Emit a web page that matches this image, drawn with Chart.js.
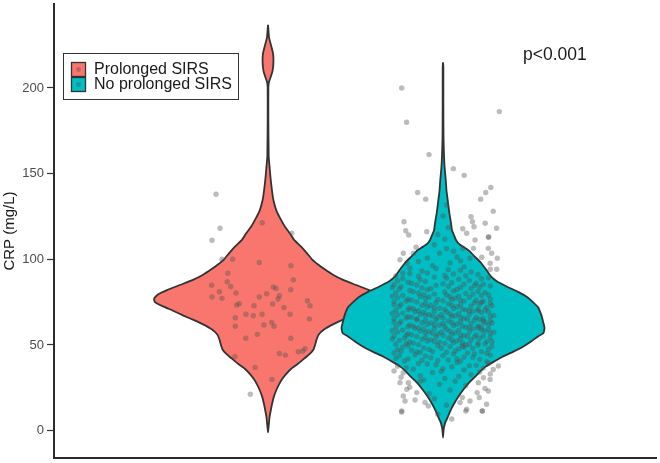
<!DOCTYPE html>
<html>
<head>
<meta charset="utf-8">
<script src="https://cdn.jsdelivr.net/npm/chart.js@4.4.1/dist/chart.umd.min.js"></script>
<style>
  html, body { margin: 0; padding: 0; background: #ffffff; }
  #wrap { width: 660px; height: 463px; }
</style>
</head>
<body>
<div id="wrap"><canvas id="c" width="660" height="463"></canvas></div>
<script>
// ---------------- DATA ----------------
const groups = ['Prolonged SIRS', 'No prolonged SIRS'];
const groupPositions = [1, 2];
const yTicks = [0, 50, 100, 150, 200];
const yTitle = 'CRP (mg/L)';
const pValueText = 'p<0.001';

// Violin outline: CRP level (top to bottom) and half-width (category units)
const prolongedCRP = [236.8, 233, 229.4, 225, 220, 215, 210, 206, 203.3, 200, 180, 160, 153.9, 148, 144.2, 139, 134.5, 128.7, 124, 119, 115, 111.3, 107.4, 103.5, 100, 97, 94, 91, 88, 85, 82, 79.5, 77, 75, 72.5, 70, 67, 64.5, 62, 59, 56, 53, 50, 47.4, 45, 42, 39, 36, 33, 30, 27, 24, 20, 16, 12.5, 8, 5, 2, -1];
const prolongedHalfWidth = [0, 0.003, 0.006, 0.017, 0.029, 0.031, 0.026, 0.014, 0.005, 0.002, 0.002, 0.004, 0.009, 0.014, 0.018, 0.024, 0.031, 0.047, 0.069, 0.097, 0.126, 0.149, 0.189, 0.223, 0.251, 0.286, 0.326, 0.371, 0.429, 0.503, 0.577, 0.629, 0.651, 0.646, 0.600, 0.543, 0.480, 0.423, 0.371, 0.320, 0.289, 0.277, 0.269, 0.260, 0.240, 0.206, 0.171, 0.131, 0.103, 0.080, 0.063, 0.049, 0.034, 0.024, 0.017, 0.009, 0.006, 0.003, 0];

const noProlongedCRP = [214.9, 212, 190, 170, 160, 153.9, 146, 140, 136, 131, 126.5, 121, 117, 114, 111.3, 109, 107, 105, 102, 98, 94, 90, 87, 84, 81, 78, 75, 72, 68, 64, 60, 57, 55, 52, 49, 46, 43, 40, 37.5, 35, 32, 28, 24, 20, 16.4, 13, 10.6, 7, 4.8, 2, 0, -4];
const noProlongedHalfWidth = [0, 0.002, 0.002, 0.003, 0.006, 0.009, 0.016, 0.020, 0.025, 0.031, 0.037, 0.046, 0.051, 0.063, 0.074, 0.091, 0.120, 0.149, 0.177, 0.217, 0.246, 0.274, 0.309, 0.366, 0.429, 0.480, 0.514, 0.543, 0.560, 0.571, 0.580, 0.574, 0.543, 0.503, 0.457, 0.400, 0.337, 0.286, 0.246, 0.217, 0.189, 0.149, 0.117, 0.089, 0.067, 0.049, 0.038, 0.023, 0.013, 0.006, 0.003, 0];

// Jittered observations: [horizontal jitter (category units), CRP]
const prolongedPoints = [[-0.297,138.0],[-0.274,118.1],[-0.32,111.1],[-0.263,100.1],[-0.202,100.1],[-0.033,121.3],[0.135,115.2],[-0.05,98.1],[0.131,96.2],[0.145,88.0],[-0.23,91.9],[-0.233,86.9],[-0.213,84.1],[-0.322,84.9],[-0.278,81.1],[-0.32,78.0],[-0.263,77.2],[-0.183,80.3],[0.03,83.8],[0.046,83.0],[0.13,82.2],[-0.008,79.9],[-0.05,78.0],[0.065,78.7],[0.057,76.8],[-0.179,73.3],[-0.164,74.1],[-0.08,72.9],[0.027,73.9],[0.091,71.9],[0.225,75.8],[0.24,72.9],[-0.126,67.9],[-0.084,67.1],[-0.034,67.9],[0.126,67.9],[-0.187,65.9],[0.236,65.2],[-0.187,60.9],[-0.023,61.7],[0.021,63.2],[0.034,60.9],[-0.061,56.2],[-0.127,53.9],[0.13,53.9],[0.065,45.0],[0.099,44.1],[0.173,46.0],[0.198,46.4],[0.211,47.8],[-0.189,43.1],[-0.074,36.9],[0.023,29.9],[-0.101,21.2]];

const noProlongedPoints = [
[-0.236,200.0],[-0.208,180.0],[0.322,186.2],[-0.08,161.1],[0.059,152.9],[0.121,149.0],[-0.145,139.0],[-0.099,135.1],[0.273,141.9],[0.244,139.0],[0.215,135.1],[0.287,128.1],[-0.223,121.9],[-0.213,116.7],[-0.196,114.2],[-0.093,116.1],[0.16,124.8],[0.168,121.9],[0.177,119.0],[0.241,121.0],[0.306,118.1],[0.113,117.8],[0.135,115.2],[0.261,113.2],[0.183,111.3],[0.259,112.8],[-0.227,103.5],[-0.246,99.7],[-0.154,107.0],[-0.169,103.5],[0.113,106.4],[0.174,106.4],[0.259,106.4],[0.278,103.5],[0.31,100.6],[0.221,101.2],[0.154,100.6],[-0.207,97.7],[-0.189,94.8],[-0.23,91.9],[0.269,97.7],[0.307,94.2],
[-0.06,96.2],[0.04,97.9],[0.12,95.6],[-0.14,98.7],[0.08,101.3],[-0.02,103.6],[0.1,99.1],[-0.09,100.8],[0.02,106.2],[-0.05,108.5],[0.06,104.7],[0.01,111.8],[-0.03,114.5],[0.03,118.6],[0.0,125.3],[0.02,131.7],
[-0.227,33.8],[-0.246,28.0],[-0.198,28.0],[-0.227,20.2],[-0.217,17.3],[-0.236,11.5],[-0.15,22.2],[-0.103,16.4],[-0.084,14.4],[0.097,16.4],[0.135,12.5],[0.154,17.3],[0.207,19.3],[0.249,15.4],[0.259,23.1],[0.231,30.9],[0.269,29.9],[0.202,28.0],[0.287,35.7],[0.316,37.7],[0.195,22.2],[0.224,11.5],[-0.207,24.1],[-0.131,28.9],[-0.236,10.9],[0.13,11.5],[0.225,11.5],
[0.02,14.8],[-0.05,18.6],[0.11,19.4],[-0.16,17.9],[0.05,6.8],[-0.03,9.6],
[-0.08,21.5],[0.04,23.7],[0.13,26.2],[-0.19,25.4],[0.07,28.8],[-0.02,27.1],[0.24,24.6],[-0.11,29.5],
[-0.24,31.2],[0.16,32.6],[-0.06,33.9],[0.01,30.4],[0.21,34.2],[-0.13,32.0],[0.09,31.7],[-0.28,34.8],[0.27,33.1],[-0.01,34.6],
[0.12,35.4],[-0.21,36.8],[0.05,37.3],[-0.09,38.9],[0.26,39.4],[-0.17,35.9],[0.19,38.1],[-0.26,37.6],[0.0,36.2],[0.08,39.8],[-0.04,38.4],[0.23,36.5],[-0.14,39.2],[0.15,37.9],
[-0.22,40.6],[0.03,41.2],[0.17,42.8],[-0.1,43.5],[0.27,44.1],[-0.27,42.2],[0.06,44.7],[-0.03,40.9],[0.21,41.6],[-0.16,44.3],[0.12,43.0],[-0.07,42.5],[0.25,40.2],[-0.2,41.9],[0.0,43.8],[0.1,40.5],[-0.12,41.1],[0.18,44.9],[-0.25,43.7],[0.08,42.0],
[-0.28,45.3],[-0.18,46.9],[-0.08,47.4],[0.02,45.8],[0.12,48.6],[0.22,46.1],[0.28,49.2],[-0.23,48.8],[-0.13,45.6],[-0.03,49.7],[0.07,46.5],[0.17,47.9],[0.25,45.1],[-0.26,47.2],[-0.11,48.3],[0.04,49.0],[0.14,45.4],[0.2,49.8],[-0.2,49.5],[-0.06,46.2],[0.09,47.7],[-0.15,45.9],[0.26,47.5],[-0.01,48.1],[0.11,49.4],[-0.24,46.4],
[-0.27,50.4],[-0.19,51.8],[-0.09,52.3],[0.01,50.9],[0.1,53.6],[0.2,51.2],[0.27,54.4],[-0.22,54.0],[-0.14,50.2],[-0.04,54.8],[0.06,51.5],[0.16,52.9],[0.24,50.6],[-0.25,52.7],[-0.12,53.3],[0.03,54.1],[0.13,50.1],[0.21,53.9],[-0.17,51.1],[-0.07,53.0],[0.08,52.4],[0.18,54.7],[-0.29,53.5],[-0.02,51.6],[0.11,51.0],[0.25,52.1],[-0.21,50.8],[-0.1,54.5],[0.05,53.1],[0.15,50.3],[0.28,51.9],[-0.05,52.0],
[-0.28,55.2],[-0.2,56.6],[-0.1,57.1],[0.0,55.7],[0.09,58.4],[0.19,56.0],[0.26,59.2],[-0.23,58.8],[-0.15,55.0],[-0.05,59.6],[0.05,56.3],[0.15,57.7],[0.23,55.4],[-0.26,57.5],[-0.13,58.1],[0.02,59.0],[0.12,55.5],[0.22,58.7],[-0.18,56.0],[-0.08,57.9],[0.07,57.2],[0.17,59.5],[-0.29,58.3],[-0.03,56.4],[0.1,55.9],[0.27,56.9],[-0.21,55.6],[-0.11,59.3],[0.04,58.0],[0.14,55.1],[0.29,57.4],[-0.06,56.8],[0.2,59.9],[-0.16,59.7],[-0.01,57.6],[0.24,58.2],
[-0.27,60.3],[-0.19,61.7],[-0.09,62.0],[0.01,60.6],[0.1,63.5],[0.2,61.1],[0.27,64.2],[-0.24,63.7],[-0.14,60.1],[-0.04,64.6],[0.06,61.4],[0.16,62.6],[0.22,60.5],[-0.25,62.4],[-0.12,63.0],[0.03,64.0],[0.13,60.4],[0.23,63.8],[-0.17,61.0],[-0.07,62.9],[0.08,62.2],[0.18,64.5],[-0.28,63.3],[-0.02,61.5],[0.11,60.9],[0.26,61.9],[-0.2,60.7],[-0.1,64.3],[0.05,63.1],[0.15,60.2],[0.28,62.8],[-0.05,61.8],[0.21,64.9],[-0.15,64.7],[0.0,62.5],[0.24,63.2],
[-0.28,65.4],[-0.2,66.5],[-0.1,67.3],[0.0,65.8],[0.09,68.2],[0.19,66.1],[0.26,69.4],[-0.23,68.6],[-0.15,65.2],[-0.05,69.7],[0.05,66.6],[0.15,67.8],[0.23,65.5],[-0.26,67.5],[-0.13,68.0],[0.02,69.2],[0.12,65.6],[0.22,68.9],[-0.18,66.2],[-0.08,67.7],[0.07,67.1],[0.17,69.6],[-0.29,68.4],[-0.03,66.3],[0.1,65.9],[0.27,66.8],[-0.21,65.7],[-0.11,69.1],[0.04,68.1],[0.14,65.0],[0.29,67.2],[-0.06,66.9],[0.2,69.9],[-0.16,69.5],[-0.01,67.6],
[-0.27,70.2],[-0.19,71.6],[-0.09,72.1],[0.01,70.7],[0.1,73.4],[0.2,71.0],[0.27,74.3],[-0.24,73.8],[-0.14,70.0],[-0.04,74.7],[0.06,71.3],[0.16,72.7],[0.24,70.4],[-0.25,72.5],[-0.12,73.2],[0.03,74.0],[0.13,70.5],[0.21,73.9],[-0.17,71.1],[-0.07,73.0],[0.08,72.3],[0.18,74.6],[-0.28,73.4],[-0.02,71.4],[0.11,70.9],[0.25,71.9],[-0.2,70.6],[-0.1,74.4],[0.05,73.1],[0.15,70.1],[0.28,72.9],[-0.05,71.8],[0.22,74.9],
[-0.28,75.3],[-0.2,76.7],[-0.1,77.2],[0.0,75.8],[0.09,78.5],[0.19,76.1],[0.26,79.3],[-0.23,78.9],[-0.15,75.1],[-0.05,79.7],[0.05,76.4],[0.15,77.8],[0.23,75.5],[-0.26,77.6],[-0.13,78.2],[0.02,79.1],[0.12,75.6],[0.22,78.8],[-0.18,76.1],[-0.08,78.0],[0.07,77.3],[0.17,79.6],[-0.29,78.4],[-0.03,76.5],[0.1,76.0],[0.27,76.9],[-0.21,75.7],[-0.11,79.4],[0.04,78.1],
[-0.27,80.4],[-0.19,81.8],[-0.09,82.3],[0.01,80.9],[0.1,83.6],[0.2,81.2],[0.27,84.4],[-0.24,84.0],[-0.14,80.2],[-0.04,84.8],[0.06,81.5],[0.16,82.9],[0.24,80.6],[-0.25,82.7],[-0.12,83.3],[0.03,84.1],[0.13,80.1],[0.21,83.9],[-0.17,81.1],[-0.07,83.0],[0.08,82.4],[0.18,84.7],[-0.29,83.5],
[-0.28,85.2],[-0.2,86.6],[-0.1,87.1],[0.0,85.7],[0.09,88.4],[0.19,86.0],[0.26,89.2],[-0.23,88.8],[-0.15,85.0],[-0.05,89.6],[0.05,86.3],[0.15,87.7],[0.23,85.4],[-0.26,87.5],[-0.13,88.1],[0.02,89.0],[0.12,85.5],[0.22,88.7],[-0.18,86.0],
[-0.27,90.3],[-0.19,91.7],[-0.09,92.0],[0.01,90.6],[0.1,93.5],[0.2,91.1],[0.27,94.2],[-0.14,90.1],[-0.04,94.6],[0.06,91.4],[0.16,92.6],[-0.12,93.0],[0.03,94.0],[0.13,90.4]
];

// ---------------- STYLE ----------------
const fillColors = ['#F8766D', '#00BFC4'];
const outlineColor = '#333333';
const pointColor = 'rgba(80,80,80,0.38)';
const FONT = "'Liberation Sans', Arial, Helvetica, sans-serif";
Chart.defaults.font.family = FONT;

function violinOutline(center, levels, halfW) {
  const right = levels.map((v, i) => ({ x: center + halfW[i], y: v }));
  const left = levels.map((v, i) => ({ x: center - halfW[i], y: v })).reverse().slice(1);
  return right.concat(left);
}
function jittered(center, pts) {
  return pts.map(p => ({ x: center + p[0], y: p[1] }));
}

const violinStyle = (i) => ({
  showLine: true,
  fill: 'shape',
  backgroundColor: fillColors[i],
  borderColor: outlineColor,
  borderWidth: 1.8,
  pointRadius: 0,
  pointHoverRadius: 0,
  tension: 0.15,
  borderJoinStyle: 'round'
});
const pointStyle = {
  showLine: false,
  pointRadius: 2.7,
  pointBackgroundColor: pointColor,
  pointBorderWidth: 0,
  pointBorderColor: 'rgba(0,0,0,0)'
};

const datasets = [
  Object.assign({ label: groups[0], data: violinOutline(groupPositions[0], prolongedCRP, prolongedHalfWidth), order: 4 }, violinStyle(0)),
  Object.assign({ label: groups[0] + ' points', data: jittered(groupPositions[0], prolongedPoints), order: 3 }, pointStyle),
  Object.assign({ label: groups[1], data: violinOutline(groupPositions[1], noProlongedCRP, noProlongedHalfWidth), order: 2 }, violinStyle(1)),
  Object.assign({ label: groups[1] + ' points', data: jittered(groupPositions[1], noProlongedPoints), order: 1 }, pointStyle)
];

const overlay = {
  id: 'overlay',
  afterDraw(chart) {
    const ctx = chart.ctx;
    ctx.save();
    // legend box
    ctx.fillStyle = '#ffffff';
    ctx.fillRect(63.5, 53.5, 175, 46);
    ctx.strokeStyle = '#333333';
    ctx.lineWidth = 1;
    ctx.strokeRect(63.5, 53.5, 175, 46);
    const rows = [62, 77];
    groups.forEach((g, i) => {
      const y = rows[i];
      ctx.fillStyle = fillColors[i];
      ctx.fillRect(71.5, y + 0.5, 14, 14);
      ctx.strokeStyle = outlineColor;
      ctx.lineWidth = 1.3;
      ctx.strokeRect(71.5, y + 0.5, 14, 14);
      ctx.fillStyle = pointColor;
      ctx.beginPath();
      ctx.arc(78.5, y + 7.5, 2.4, 0, Math.PI * 2);
      ctx.fill();
      ctx.fillStyle = '#1a1a1a';
      ctx.font = '16px ' + FONT;
      ctx.textBaseline = 'alphabetic';
      ctx.textAlign = 'left';
      ctx.fillText(g, 94, y + 12.3);
    });
    // p value
    ctx.fillStyle = '#1a1a1a';
    ctx.font = '17.5px ' + FONT;
    ctx.textAlign = 'left';
    ctx.textBaseline = 'alphabetic';
    ctx.fillText(pValueText, 523, 60);
    ctx.restore();
  }
};

new Chart(document.getElementById('c'), {
  type: 'scatter',
  data: { datasets },
  options: {
    responsive: false,
    animation: false,
    events: [],
    layout: { padding: { left: 0, top: 3, right: 4, bottom: 5 } },
    plugins: { legend: { display: false }, tooltip: { enabled: false } },
    scales: {
      x: {
        type: 'linear',
        min: -0.2229,
        max: 3.217,
        ticks: { display: false },
        grid: { display: false },
        border: { display: true, color: '#2b2b2b', width: 2 },
        afterFit(scale) { scale.height = 0; scale.paddingLeft = 0; scale.paddingRight = 0; }
      },
      y: {
        type: 'linear',
        min: -15.97,
        max: 249,
        afterBuildTicks(scale) { scale.ticks = yTicks.map(v => ({ value: v })); },
        afterFit(scale) { scale.width = 54; scale.paddingTop = 0; scale.paddingBottom = 0; },
        ticks: { color: '#4d4d4d', font: { size: 13 }, padding: 3 },
        grid: { display: true, drawOnChartArea: false, drawTicks: true, tickLength: 7, tickColor: '#333333', tickWidth: 1.2 },
        border: { display: true, color: '#2b2b2b', width: 2 },
        title: { display: true, text: yTitle, color: '#1a1a1a', font: { size: 15 }, padding: { top: 1, bottom: 0 } }
      }
    }
  },
  plugins: [overlay]
});
</script>
</body>
</html>
